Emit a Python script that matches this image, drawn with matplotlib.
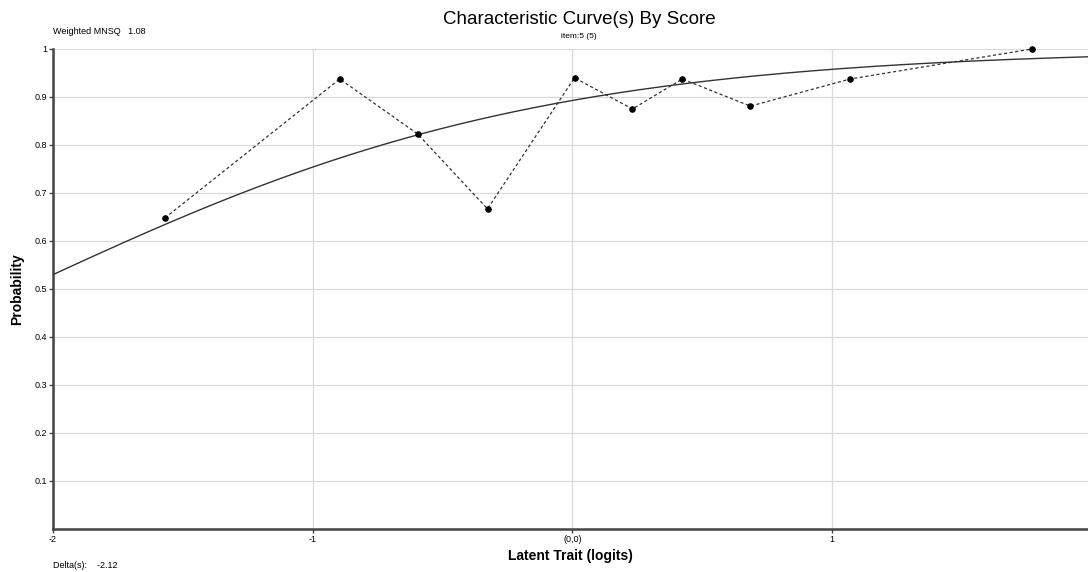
import numpy as np
import matplotlib
matplotlib.use("Agg")
import matplotlib.pyplot as plt

# observed proportions by score group
obs_x = [-1.569, -0.896, -0.596, -0.327, 0.008, 0.231, 0.423, 0.685, 1.069, 1.769]
obs_y = [0.648, 0.9375, 0.823, 0.667, 0.94, 0.875, 0.9375, 0.881, 0.9375, 1.0]

delta = -2.12
mnsq = 1.08

xticks = [-2, -1, 0, 1]
xtick_labels = ["-2", "-1", "(0,0)", "1"]
yticks = [0.1, 0.2, 0.3, 0.4, 0.5, 0.6, 0.7, 0.8, 0.9, 1.0]
ytick_labels = ["0.1", "0.2", "0.3", "0.4", "0.5", "0.6", "0.7", "0.8", "0.9", "1"]

plt.rcParams['font.family'] = ['Liberation Sans', 'DejaVu Sans']

fig = plt.figure(figsize=(10.88, 5.72), dpi=100)
ax = fig.add_axes([53/1088, 43/572, 1035/1088, 480/572])

# model curve from delta
xx = np.linspace(-2, 1.985, 400)
ax.plot(xx, 1/(1+np.exp(-(xx-delta))), color='#333333', lw=1.0, zorder=3)

ax.plot(obs_x, obs_y, color='#333333', lw=0.9, ls=(0, (2.5, 2)), zorder=3, clip_on=False)
ax.scatter(obs_x, obs_y, s=14, color='black', zorder=4, clip_on=False)

ax.set_xlim(-2, 1.985)
ax.set_ylim(0, 1)
ax.set_xticks(xticks)
ax.set_xticklabels(xtick_labels, fontsize=6.5)
ax.set_yticks(yticks)
ax.set_yticklabels(ytick_labels, fontsize=6.5)
ax.tick_params(length=3, width=1, color='#444444', pad=1)
ax.grid(True, color='#d9d9d9', lw=0.9)
ax.set_axisbelow(True)
for s in ['top', 'right']:
    ax.spines[s].set_visible(False)
for s in ['left', 'bottom']:
    ax.spines[s].set_color('#444444')
    ax.spines[s].set_linewidth(1.8)

ax.set_xlabel("Latent Trait (logits)", fontsize=10, fontweight='bold', labelpad=4)
ax.set_ylabel("Probability", fontsize=10, fontweight='bold', labelpad=8)

fig.text(579/1088, 1-20/572, "Characteristic Curve(s) By Score", fontsize=13.5, ha='center', va='center')
fig.text(579/1088, 1-37/572, "item:5 (5)", fontsize=6, ha='center', va='center')
fig.text(53/1088, 1-32/572, "Weighted MNSQ   %.2f" % mnsq, fontsize=6.5, ha='left', va='center')
fig.text(53/1088, 1-566/572, "Delta(s):    %.2f" % delta, fontsize=6.5, ha='left', va='center')

fig.savefig("out.png", dpi=100)
